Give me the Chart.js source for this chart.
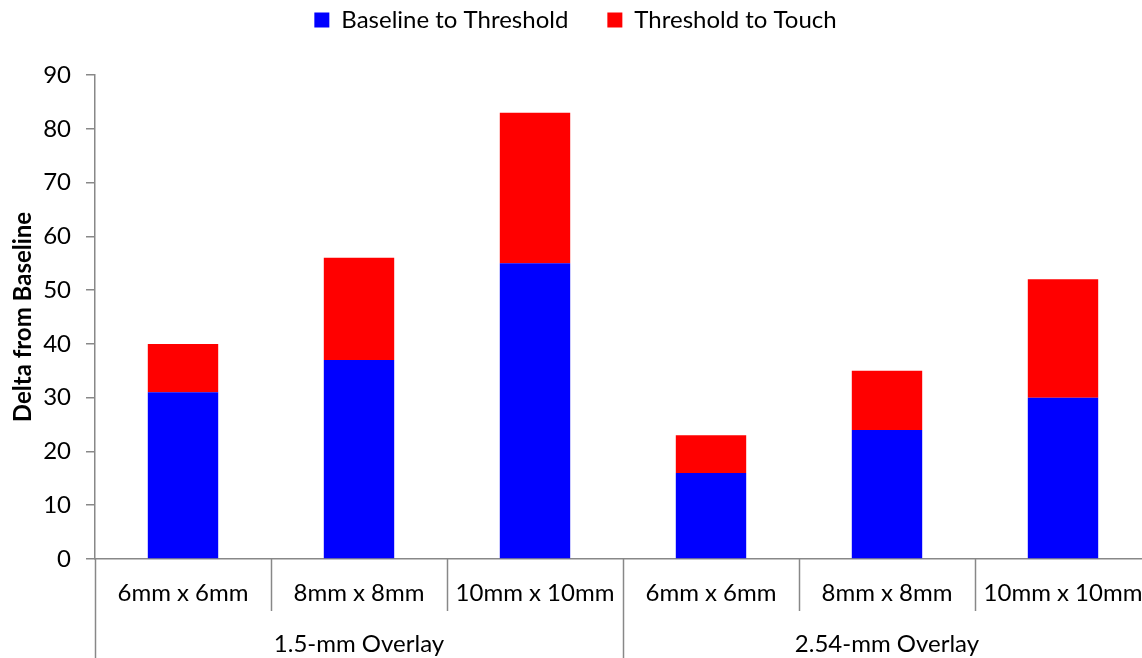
<!DOCTYPE html>
<html>
<head>
<meta charset="utf-8">
<script src="https://cdn.jsdelivr.net/npm/chart.js@4"></script>
<style>
  html, body { margin: 0; padding: 0; background: #fff; overflow: hidden; }
  #wrap { width: 1142px; height: 658px; overflow: hidden; }
  canvas { display: block; }
</style>
</head>
<body>
<div id="wrap"><canvas id="chart" width="1151" height="658"></canvas></div>
<script>
// Pad sizes, grouped by overlay thickness
const categories = ['6mm x 6mm', '8mm x 8mm', '10mm x 10mm', '6mm x 6mm', '8mm x 8mm', '10mm x 10mm'];
const groupLabels = ['1.5-mm Overlay', '2.54-mm Overlay'];
const groupSizes = [3, 3];

// Stacked segments (delta counts)
const baselineToThreshold = [31, 37, 55, 16, 24, 30];
const thresholdToTouch = [9, 19, 28, 7, 11, 22];

// Value axis
const yMin = 0;
const yMax = 90;
const yStep = 10;

const FONT = 'Lato, "Open Sans", sans-serif';
const FONT_SIZE = 24;
const AXIS_GREY = '#888888';
const PLOT_TOP = 75;       // top edge of the plot area
const LAYOUT_TOP = -31;    // pulls the legend row up

// Reserve a fixed block for the legend so the plot starts at PLOT_TOP
const legendHeightPlugin = {
  id: 'legendHeight',
  beforeLayout(chart) {
    const legend = chart.legend;
    if (legend && !legend._fixedFit) {
      const fit = legend.fit;
      legend.fit = function () {
        fit.call(this);
        this.height = PLOT_TOP - LAYOUT_TOP;
      };
      legend._fixedFit = true;
    }
  }
};

// Divider lines between categories plus the second-level group labels
const groupAxisPlugin = {
  id: 'groupAxis',
  afterDraw(chart) {
    const { ctx, chartArea } = chart;
    const x = chart.scales.x;
    const n = categories.length;
    const half = (x.getPixelForValue(1) - x.getPixelForValue(0)) / 2;
    const base = chartArea.bottom;
    const bottom = chart.height;

    const groupStarts = new Set([0]);
    let acc = 0;
    groupSizes.forEach(s => { acc += s; groupStarts.add(acc); });

    ctx.save();
    ctx.strokeStyle = AXIS_GREY;
    ctx.lineWidth = 1.5;
    for (let i = 0; i <= n; i++) {
      const px = Math.round(x.getPixelForValue(i) - half) + 0.5;
      const endY = groupStarts.has(i) ? bottom : base + 52;
      ctx.beginPath();
      ctx.moveTo(px, base);
      ctx.lineTo(px, endY);
      ctx.stroke();
    }

    ctx.fillStyle = '#000';
    ctx.font = FONT_SIZE + 'px ' + FONT;
    ctx.textAlign = 'center';
    ctx.textBaseline = 'middle';
    let start = 0;
    groupLabels.forEach((label, g) => {
      const end = start + groupSizes[g] - 1;
      const cx = (x.getPixelForValue(start) + x.getPixelForValue(end)) / 2;
      ctx.fillText(label, cx, base + 85);
      start += groupSizes[g];
    });
    ctx.restore();
  }
};

new Chart(document.getElementById('chart'), {
  type: 'bar',
  data: {
    labels: categories,
    datasets: [
      {
        label: 'Baseline to Threshold',
        data: baselineToThreshold,
        backgroundColor: '#0000FF',
        borderWidth: 0
      },
      {
        label: 'Threshold to Touch',
        data: thresholdToTouch,
        backgroundColor: '#FF0000',
        borderWidth: 0
      }
    ]
  },
  options: {
    responsive: false,
    animation: false,
    events: [],
    layout: { padding: { left: 0, right: 0, top: LAYOUT_TOP, bottom: 0 } },
    datasets: {
      bar: { categoryPercentage: 1.0, barPercentage: 0.4 }
    },
    plugins: {
      legend: {
        position: 'top',
        labels: {
          color: '#000',
          font: { family: FONT, size: FONT_SIZE },
          boxWidth: 15,
          boxHeight: 15,
          padding: 39
        }
      },
      tooltip: { enabled: false }
    },
    scales: {
      x: {
        stacked: true,
        // tick marks hidden; their length only spaces the labels below the axis
        grid: { display: false, drawTicks: true, tickLength: 20 },
        border: { display: true, color: AXIS_GREY, width: 1.5 },
        ticks: {
          color: '#000',
          font: { family: FONT, size: FONT_SIZE },
          padding: 0,
          maxRotation: 0,
          autoSkip: false
        },
        afterFit(scale) { scale.height = 99; }
      },
      y: {
        stacked: true,
        min: yMin,
        max: yMax,
        grid: {
          display: true,
          drawOnChartArea: false,
          drawTicks: true,
          tickLength: 9,
          color: AXIS_GREY,
          lineWidth: 1.5
        },
        border: { display: true, color: AXIS_GREY, width: 1.5 },
        ticks: {
          stepSize: yStep,
          color: '#000',
          font: { family: FONT, size: FONT_SIZE },
          padding: 15
        },
        title: {
          display: true,
          text: 'Delta from Baseline',
          color: '#000',
          font: { family: FONT, size: FONT_SIZE, weight: 'bold' },
          padding: { top: 9, bottom: 0 }
        },
        afterFit(scale) { scale.width = 95; }
      }
    }
  },
  plugins: [legendHeightPlugin, groupAxisPlugin]
});
</script>
</body>
</html>
